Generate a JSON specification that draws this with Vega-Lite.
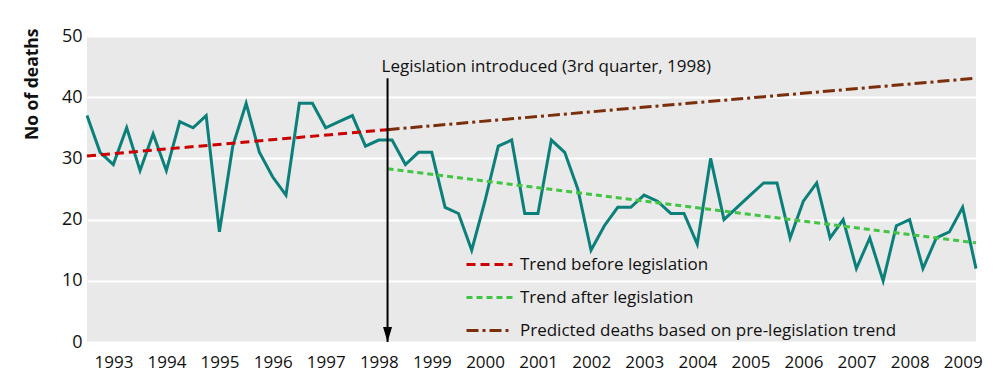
{
  "$schema": "https://vega.github.io/schema/vega-lite/v6.json",
  "width": 889,
  "height": 306,
  "autosize": {"type": "none"},
  "padding": {"left": 87, "top": 36, "right": 27, "bottom": 45},
  "background": "white",
  "config": {
    "view": {"fill": "#e9e9e9", "stroke": null},
    "font": "Open Sans",
    "axis": {"labelFont": "Open Sans", "titleFont": "Open Sans", "labelColor": "#111111", "titleColor": "#111111"}
  },
  "datasets": {
    "deaths": [
      {"quarter": "1993-01-01", "deaths": 37}, {"quarter": "1993-04-01", "deaths": 31}, {"quarter": "1993-07-01", "deaths": 29}, {"quarter": "1993-10-01", "deaths": 35},
      {"quarter": "1994-01-01", "deaths": 28}, {"quarter": "1994-04-01", "deaths": 34}, {"quarter": "1994-07-01", "deaths": 28}, {"quarter": "1994-10-01", "deaths": 36},
      {"quarter": "1995-01-01", "deaths": 35}, {"quarter": "1995-04-01", "deaths": 37}, {"quarter": "1995-07-01", "deaths": 18}, {"quarter": "1995-10-01", "deaths": 32},
      {"quarter": "1996-01-01", "deaths": 39}, {"quarter": "1996-04-01", "deaths": 31}, {"quarter": "1996-07-01", "deaths": 27}, {"quarter": "1996-10-01", "deaths": 24},
      {"quarter": "1997-01-01", "deaths": 39}, {"quarter": "1997-04-01", "deaths": 39}, {"quarter": "1997-07-01", "deaths": 35}, {"quarter": "1997-10-01", "deaths": 36},
      {"quarter": "1998-01-01", "deaths": 37}, {"quarter": "1998-04-01", "deaths": 32}, {"quarter": "1998-07-01", "deaths": 33}, {"quarter": "1998-10-01", "deaths": 33},
      {"quarter": "1999-01-01", "deaths": 29}, {"quarter": "1999-04-01", "deaths": 31}, {"quarter": "1999-07-01", "deaths": 31}, {"quarter": "1999-10-01", "deaths": 22},
      {"quarter": "2000-01-01", "deaths": 21}, {"quarter": "2000-04-01", "deaths": 15}, {"quarter": "2000-07-01", "deaths": 23}, {"quarter": "2000-10-01", "deaths": 32},
      {"quarter": "2001-01-01", "deaths": 33}, {"quarter": "2001-04-01", "deaths": 21}, {"quarter": "2001-07-01", "deaths": 21}, {"quarter": "2001-10-01", "deaths": 33},
      {"quarter": "2002-01-01", "deaths": 31}, {"quarter": "2002-04-01", "deaths": 25}, {"quarter": "2002-07-01", "deaths": 15}, {"quarter": "2002-10-01", "deaths": 19},
      {"quarter": "2003-01-01", "deaths": 22}, {"quarter": "2003-04-01", "deaths": 22}, {"quarter": "2003-07-01", "deaths": 24}, {"quarter": "2003-10-01", "deaths": 23},
      {"quarter": "2004-01-01", "deaths": 21}, {"quarter": "2004-04-01", "deaths": 21}, {"quarter": "2004-07-01", "deaths": 16}, {"quarter": "2004-10-01", "deaths": 30},
      {"quarter": "2005-01-01", "deaths": 20}, {"quarter": "2005-04-01", "deaths": 22}, {"quarter": "2005-07-01", "deaths": 24}, {"quarter": "2005-10-01", "deaths": 26},
      {"quarter": "2006-01-01", "deaths": 26}, {"quarter": "2006-04-01", "deaths": 17}, {"quarter": "2006-07-01", "deaths": 23}, {"quarter": "2006-10-01", "deaths": 26},
      {"quarter": "2007-01-01", "deaths": 17}, {"quarter": "2007-04-01", "deaths": 20}, {"quarter": "2007-07-01", "deaths": 12}, {"quarter": "2007-10-01", "deaths": 17},
      {"quarter": "2008-01-01", "deaths": 10}, {"quarter": "2008-04-01", "deaths": 19}, {"quarter": "2008-07-01", "deaths": 20}, {"quarter": "2008-10-01", "deaths": 12},
      {"quarter": "2009-01-01", "deaths": 17}, {"quarter": "2009-04-01", "deaths": 18}, {"quarter": "2009-07-01", "deaths": 22}, {"quarter": "2009-10-01", "deaths": 12}
    ],
    "trends": [
      {"series": "Trend before legislation", "quarter": "1993-01-01", "v": 30.4},
      {"series": "Trend before legislation", "quarter": "1998-08-31", "v": 34.7},
      {"series": "Trend after legislation", "quarter": "1998-08-31", "v": 28.3},
      {"series": "Trend after legislation", "quarter": "2009-10-01", "v": 16.2},
      {"series": "Predicted deaths based on pre-legislation trend", "quarter": "1998-08-31", "v": 34.7},
      {"series": "Predicted deaths based on pre-legislation trend", "quarter": "2009-10-01", "v": 43.1}
    ],
    "events": [
      {"quarter": "1998-08-31", "label": "Legislation introduced (3rd quarter, 1998)"}
    ]
  },
  "layer": [
    {
      "data": {"name": "deaths"},
      "mark": {"type": "line", "color": "#0b807a", "strokeWidth": 3},
      "encoding": {
        "x": {
          "field": "quarter", "type": "temporal",
          "scale": {"type": "utc", "domain": [{"year": 1993, "month": 1, "date": 1, "utc": true}, {"year": 2009, "month": 10, "date": 1, "utc": true}], "nice": false},
          "axis": {
            "title": null,
            "values": [
              {"year": 1993, "month": 7, "date": 2, "utc": true}, {"year": 1994, "month": 7, "date": 2, "utc": true}, {"year": 1995, "month": 7, "date": 2, "utc": true},
              {"year": 1996, "month": 7, "date": 2, "utc": true}, {"year": 1997, "month": 7, "date": 2, "utc": true}, {"year": 1998, "month": 7, "date": 2, "utc": true},
              {"year": 1999, "month": 7, "date": 2, "utc": true}, {"year": 2000, "month": 7, "date": 2, "utc": true}, {"year": 2001, "month": 7, "date": 2, "utc": true},
              {"year": 2002, "month": 7, "date": 2, "utc": true}, {"year": 2003, "month": 7, "date": 2, "utc": true}, {"year": 2004, "month": 7, "date": 2, "utc": true},
              {"year": 2005, "month": 7, "date": 2, "utc": true}, {"year": 2006, "month": 7, "date": 2, "utc": true}, {"year": 2007, "month": 7, "date": 2, "utc": true},
              {"year": 2008, "month": 7, "date": 2, "utc": true}, {"year": 2009, "month": 7, "date": 2, "utc": true}
            ],
            "format": "%Y",
            "ticks": false,
            "domain": false, "grid": false,
            "labelFontSize": 17, "labelPadding": 12
          }
        },
        "y": {
          "field": "deaths", "type": "quantitative",
          "scale": {"domain": [0, 50], "nice": false},
          "axis": {
            "title": "No of deaths",
            "values": [0, 10, 20, 30, 40, 50],
            "grid": true, "gridColor": "white", "gridWidth": 2, "gridOpacity": 1,
            "ticks": false, "domain": false,
            "labelFontSize": 18, "labelPadding": 5,
            "titleFontSize": 17.5, "titleFontWeight": "bold",
            "titleAnchor": "end", "titleX": -55, "titleY": -8, "titleBaseline": "middle"
          }
        }
      }
    },
    {
      "data": {"name": "trends"},
      "mark": {"type": "line", "strokeWidth": 3},
      "encoding": {
        "x": {"field": "quarter", "type": "temporal"},
        "y": {"field": "v", "type": "quantitative"},
        "color": {
          "field": "series", "type": "nominal",
          "scale": {"domain": ["Trend before legislation", "Trend after legislation", "Predicted deaths based on pre-legislation trend"], "range": ["#cc0000", "#44c444", "#7a2e0a"]},
          "legend": {"title": null, "orient": "none", "legendX": 378, "legendY": 204, "symbolType": "stroke", "symbolSize": 2116, "symbolStrokeWidth": 3, "labelFontSize": 17, "labelOffset": 6, "labelLimit": 0, "rowPadding": -3, "labelColor": "#111111", "labelFont": "Open Sans"}
        },
        "strokeDash": {
          "field": "series", "type": "nominal",
          "scale": {"domain": ["Trend before legislation", "Trend after legislation", "Predicted deaths based on pre-legislation trend"], "range": [[9, 5], [6, 4], [12, 4, 3, 4]]},
          "legend": {"title": null, "orient": "none", "legendX": 378, "legendY": 204, "symbolType": "stroke", "symbolSize": 2116, "symbolStrokeWidth": 3, "labelFontSize": 17, "labelOffset": 6, "labelLimit": 0, "rowPadding": -3, "labelColor": "#111111", "labelFont": "Open Sans"}
        }
      }
    },
    {
      "data": {"name": "events"},
      "mark": {"type": "rule", "color": "black", "strokeWidth": 2},
      "encoding": {"x": {"field": "quarter", "type": "temporal"}, "y": {"datum": 43.1}, "y2": {"datum": 0}}
    },
    {
      "data": {"name": "events"},
      "mark": {"type": "point", "shape": "M-0.6,-2L0.6,-2L0,0Z", "size": 225, "filled": true, "color": "black", "opacity": 1, "strokeWidth": 0},
      "encoding": {"x": {"field": "quarter", "type": "temporal"}, "y": {"datum": 0}}
    },
    {
      "data": {"name": "events"},
      "mark": {"type": "text", "align": "left", "baseline": "alphabetic", "dx": -6, "fontSize": 17, "font": "Open Sans", "color": "#111111"},
      "encoding": {"x": {"field": "quarter", "type": "temporal"}, "y": {"datum": 44.1}, "text": {"field": "label"}}
    }
  ]
}
